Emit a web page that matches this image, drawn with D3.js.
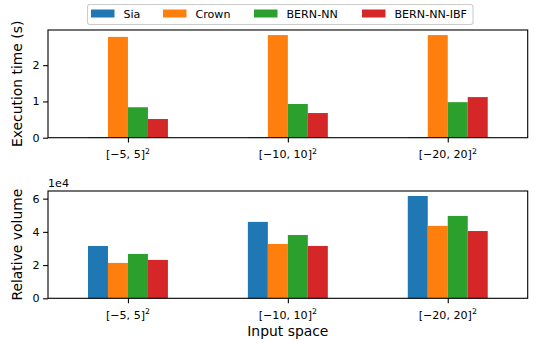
<!DOCTYPE html>
<html><head><meta charset="utf-8">
<script src="https://cdn.jsdelivr.net/npm/d3@7"></script>
<style>body{margin:0;background:#fff}svg{display:block}text{font-family:"DejaVu Sans",sans-serif}</style>
</head><body><svg id="c" width="537" height="343"></svg>
<script>
const categories = [["[\u22125, 5]", "2"], ["[\u221210, 10]", "2"], ["[\u221220, 20]", "2"]];
const seriesNames = ["Sia", "Crown", "BERN-NN", "BERN-NN-IBF"];
const colors = ["#1f77b4", "#ff7f0e", "#2ca02c", "#d62728"];
const execTime = [
  [0.02, 0.02, 0.02],
  [2.78, 2.83, 2.83],
  [0.84, 0.93, 0.98],
  [0.515, 0.68, 1.12]
];
const relVolume = [
  [3.15e4, 4.60e4, 6.16e4],
  [2.13e4, 3.27e4, 4.36e4],
  [2.67e4, 3.81e4, 4.96e4],
  [2.31e4, 3.15e4, 4.05e4]
];
const topTicks = [0, 1, 2];
const botTicks = [0, 2e4, 4e4, 6e4];

const svg = d3.select("#c");
const L = 48, R = 527.7;
const x = d3.scaleLinear().domain([-0.5, 2.5]).range([L, R]);
const bw = 0.125;

function panel(top, bottom, data, ymax, ticks, fmt, ylabel, offsetText) {
  const y = d3.scaleLinear().domain([0, ymax]).range([bottom, top]);
  const g = svg.append("g");
  data.forEach((vals, s) => {
    g.selectAll(null).data(vals).enter().append("rect")
      .attr("x", (d, i) => x(i - 0.25 + s * bw))
      .attr("width", x(bw) - x(0))
      .attr("y", d => y(d))
      .attr("height", d => y(0) - y(d))
      .attr("fill", colors[s]);
  });
  const ya = g.append("g").attr("transform", `translate(${L},0)`)
    .call(d3.axisLeft(y).tickValues(ticks).tickSize(4.9).tickPadding(3.5).tickFormat(fmt));
  ya.select(".domain").remove();
  ya.selectAll("line").attr("stroke", "#000").attr("stroke-width", 1.1);
  ya.selectAll("text").attr("font-size", 11.1).attr("fill", "#000").attr("font-family", "DejaVu Sans");
  const xa = g.append("g").attr("transform", `translate(0,${bottom})`)
    .call(d3.axisBottom(x).tickValues([0, 1, 2]).tickSize(4.9).tickFormat(""));
  xa.select(".domain").remove();
  xa.selectAll("line").attr("stroke", "#000").attr("stroke-width", 1.1);
  categories.forEach((c, i) => {
    const t = g.append("text").attr("x", x(i)).attr("y", bottom + 20.5)
      .attr("text-anchor", "middle").attr("font-size", 11.1).attr("fill", "#000");
    t.append("tspan").text(c[0]);
    t.append("tspan").attr("dy", -4.5).attr("font-size", 7.8).text(c[1]);
  });
  g.append("rect").attr("x", L).attr("y", top).attr("width", R - L).attr("height", bottom - top)
    .attr("fill", "none").attr("stroke", "#000").attr("stroke-width", 1.1);
  g.append("text").attr("transform", `translate(22,${(top + bottom) / 2}) rotate(-90)`)
    .attr("text-anchor", "middle").attr("font-size", 13.9).attr("fill", "#000").text(ylabel);
  if (offsetText) {
    g.append("text").attr("x", L).attr("y", top - 4).attr("font-size", 11.1).attr("fill", "#000").text(offsetText);
  }
  return g;
}

panel(30, 137.7, execTime, 2.97, topTicks, d3.format("d"), "Execution time (s)", null);
panel(191, 298.3, relVolume, 6.46e4, botTicks, d => d / 1e4, "Relative volume", "1e4");

svg.append("text").attr("x", x(1)).attr("y", 336).attr("text-anchor", "middle")
  .attr("font-size", 13.9).attr("fill", "#000").text("Input space");

const lg = svg.append("g");
lg.append("rect").attr("x", 87.5).attr("y", 4.5).attr("width", 385.5).attr("height", 20)
  .attr("rx", 2.5).attr("fill", "#fff").attr("stroke", "#ccc").attr("stroke-width", 1.1);
const legX = [91, 163, 254, 362];
seriesNames.forEach((n, i) => {
  lg.append("rect").attr("x", legX[i]).attr("y", 9.5).attr("width", 23.5).attr("height", 8)
    .attr("fill", colors[i]);
  lg.append("text").attr("x", legX[i] + 32.5).attr("y", 17.6).attr("font-size", 11.1)
    .attr("fill", "#000").text(n);
});
</script></body></html>
